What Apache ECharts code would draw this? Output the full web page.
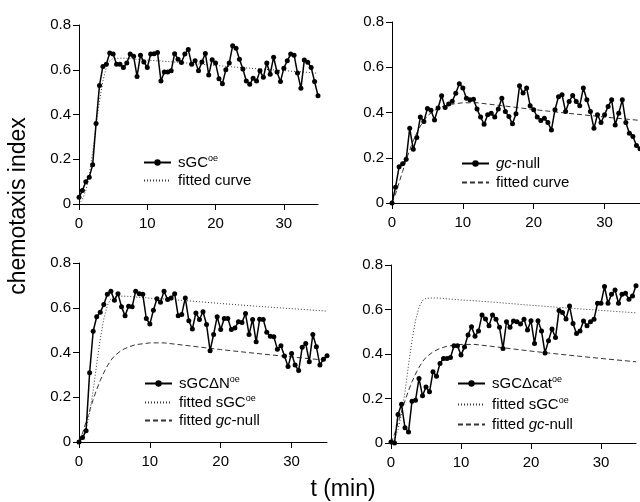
<!DOCTYPE html>
<html>
<head>
<meta charset="utf-8">
<script src="https://cdn.jsdelivr.net/npm/echarts@6/dist/echarts.min.js"></script>
<style>
html, body { margin: 0; padding: 0; background: #fff; }
#chart { width: 640px; height: 502px; }
</style>
</head>
<body>
<div id="chart"></div>
<script>
// sampling times (min)
const tMin = [0, 0.5, 1, 1.5, 2, 2.5, 3, 3.5, 4, 4.5, 5, 5.5, 6, 6.5, 7, 7.5, 8, 8.5, 9, 9.5,
    10, 10.5, 11, 11.5, 12, 12.5, 13, 13.5, 14, 14.5, 15, 15.5, 16, 16.5, 17, 17.5, 18, 18.5, 19, 19.5,
    20, 20.5, 21, 21.5, 22, 22.5, 23, 23.5, 24, 24.5, 25, 25.5, 26, 26.5, 27, 27.5, 28, 28.5, 29, 29.5,
    30, 30.5, 31, 31.5, 32, 32.5, 33, 33.5, 34, 34.5, 35];

const xTicks = [0, 10, 20, 30];
const yTicks = [0, 0.2, 0.4, 0.6, 0.8];

// measured chemotaxis index
const sgcOE = [0.03, 0.06, 0.10, 0.12, 0.175, 0.36, 0.53, 0.615, 0.625, 0.675,
    0.67, 0.625, 0.625, 0.61, 0.63, 0.67, 0.66, 0.57, 0.665, 0.635,
    0.61, 0.67, 0.672, 0.677, 0.55, 0.59, 0.59, 0.595, 0.672, 0.647,
    0.632, 0.67, 0.69, 0.625, 0.64, 0.595, 0.635, 0.673, 0.577, 0.645,
    0.63, 0.56, 0.537, 0.60, 0.63, 0.707, 0.696, 0.647, 0.603, 0.55,
    0.535, 0.562, 0.55, 0.595, 0.566, 0.63, 0.58, 0.656, 0.59, 0.547,
    0.607, 0.64, 0.67, 0.665, 0.585, 0.517, 0.644, 0.633, 0.61, 0.547,
    0.484];
const gcNull = [0, 0.07, 0.16, 0.173, 0.193, 0.33, 0.238, 0.29, 0.38, 0.36,
    0.418, 0.41, 0.367, 0.42, 0.474, 0.422, 0.438, 0.45, 0.485, 0.527,
    0.508, 0.463, 0.456, 0.459, 0.415, 0.38, 0.348, 0.39, 0.397, 0.38,
    0.415, 0.463, 0.404, 0.382, 0.35, 0.394, 0.518, 0.486, 0.508, 0.43,
    0.412, 0.38, 0.365, 0.375, 0.356, 0.323, 0.412, 0.47, 0.478, 0.404,
    0.449, 0.475, 0.449, 0.43, 0.508, 0.456, 0.404, 0.33, 0.39, 0.356,
    0.39, 0.427, 0.456, 0.345, 0.397, 0.456, 0.356, 0.308, 0.294, 0.254,
    0.24];
const sgcDeltaN = [0, 0.02, 0.05, 0.31, 0.495, 0.56, 0.58, 0.614, 0.66, 0.674,
    0.634, 0.663, 0.604, 0.564, 0.607, 0.604, 0.674, 0.663, 0.66, 0.552,
    0.527, 0.589, 0.64, 0.625, 0.674, 0.637, 0.644, 0.663, 0.564, 0.57,
    0.644, 0.542, 0.505, 0.577, 0.548, 0.582, 0.525, 0.408, 0.481, 0.56,
    0.503, 0.552, 0.552, 0.503, 0.51, 0.537, 0.534, 0.574, 0.481, 0.548,
    0.448, 0.549, 0.548, 0.49, 0.473, 0.47, 0.414, 0.43, 0.384, 0.337,
    0.396, 0.344, 0.319, 0.423, 0.44, 0.359, 0.481, 0.426, 0.344, 0.37,
    0.385];
const sgcDeltaCat = [0.005, 0, 0.128, 0.174, 0.068, 0.05, 0.188, 0.192, 0.29, 0.212,
    0.252, 0.23, 0.32, 0.30, 0.357, 0.38, 0.38, 0.384, 0.437, 0.437,
    0.395, 0.432, 0.485, 0.523, 0.48, 0.503, 0.575, 0.557, 0.527, 0.575,
    0.556, 0.52, 0.425, 0.545, 0.52, 0.548, 0.545, 0.535, 0.556, 0.508,
    0.55, 0.447, 0.55, 0.503, 0.405, 0.46, 0.512, 0.474, 0.595, 0.586,
    0.557, 0.616, 0.537, 0.492, 0.503, 0.548, 0.527, 0.545, 0.556, 0.628,
    0.628, 0.703, 0.628, 0.668, 0.688, 0.628, 0.668, 0.673, 0.646, 0.661,
    0.707];

// fitted curves
const fitT = [0, 0.5, 1, 1.5, 2, 2.5, 3, 3.5, 4, 4.5, 5, 6, 7, 8, 10, 12, 15, 20, 25, 30, 35];
const fitSGC = [0, 0.02, 0.06, 0.13, 0.23, 0.35, 0.46, 0.55, 0.61, 0.64, 0.65, 0.652, 0.651, 0.648,
    0.643, 0.639, 0.632, 0.619, 0.607, 0.596, 0.585];
const fitGC = [0, 0.04, 0.09, 0.14, 0.19, 0.235, 0.275, 0.31, 0.34, 0.365, 0.385, 0.41, 0.425, 0.435,
    0.443, 0.443, 0.432, 0.413, 0.396, 0.38, 0.365];

const FONT = 'Liberation Sans, Arial, sans-serif';

const grids = [
    { left: 79, top: 25, width: 239, height: 179 },
    { left: 392, top: 22, width: 252, height: 181 },
    { left: 79, top: 263, width: 248, height: 179 },
    { left: 391, top: 265, width: 245, height: 178 }
];

function pairs(xs, ys) {
    return xs.map((x, i) => [x, ys[i]]);
}

function dataSeries(name, idx, ys) {
    return {
        type: 'line', name: name, xAxisIndex: idx, yAxisIndex: idx,
        data: pairs(tMin, ys),
        symbol: 'circle', symbolSize: 5, showAllSymbol: true,
        lineStyle: { color: '#000', width: 1.5 },
        itemStyle: { color: '#000' },
        z: 5
    };
}

function fitSeries(name, idx, ys, dash) {
    return {
        type: 'line', name: name, xAxisIndex: idx, yAxisIndex: idx,
        data: pairs(fitT, ys),
        symbol: 'none',
        lineStyle: { color: '#333', width: 1, type: dash },
        itemStyle: { color: '#333' },
        z: 3
    };
}

const DOT = [1, 2];
const DASH = [5, 3];

const labels = {
    sgc: '{n|sGC}{s|oe}',
    fit1: '{n|fitted curve}',
    gc: '{i|gc}{n|-null}',
    fit2: '{n|fitted curve}',
    dN: '{n|sGCΔN}{s|oe}',
    fitS3: '{n|fitted sGC}{s|oe}',
    fitG3: '{n|fitted }{i|gc}{n|-null}',
    dCat: '{n|sGCΔcat}{s|oe}',
    fitS4: '{n|fitted sGC}{s|oe}',
    fitG4: '{n|fitted }{i|gc}{n|-null}'
};

const rich = {
    n: { fontSize: 15, color: '#000', fontFamily: FONT },
    i: { fontSize: 15, color: '#000', fontFamily: FONT, fontStyle: 'italic' },
    s: { fontSize: 9, color: '#000', fontFamily: FONT, padding: [0, 0, 8, 0] }
};

function legendAt(left, top, gap, names, fits) {
    return {
        orient: 'vertical', left: left, top: top,
        itemWidth: 27, itemHeight: 8, itemGap: gap,
        selectedMode: false,
        // fitted curves: line only, hide the marker
        data: names.map(n => (fits.includes(n) ? { name: n, itemStyle: { opacity: 0 } } : n)),
        formatter: name => labels[name],
        textStyle: { fontSize: 15, color: '#000', fontFamily: FONT, padding: [0, 0, 0, 2], rich: rich }
    };
}

let chart = echarts.init(document.getElementById('chart'));
let option = {
    animation: false,
    backgroundColor: '#fff',
    textStyle: { fontFamily: FONT },
    grid: grids,
    xAxis: grids.map((g, i) => ({
        type: 'value', gridIndex: i, min: 0, max: 35,
        axisLine: { show: true, lineStyle: { color: '#000', width: 1 } },
        axisTick: { show: true, length: 6, customValues: xTicks, lineStyle: { color: '#000' } },
        axisLabel: { customValues: xTicks, fontSize: 15, color: '#000', margin: 12, fontFamily: FONT },
        splitLine: { show: false }
    })),
    yAxis: grids.map((g, i) => ({
        type: 'value', gridIndex: i, min: 0, max: 0.8,
        axisLine: { show: true, lineStyle: { color: '#000', width: 1 } },
        axisTick: { show: true, length: 6, customValues: yTicks, lineStyle: { color: '#000' } },
        axisLabel: {
            customValues: yTicks, fontSize: 15, color: '#000', margin: 8, fontFamily: FONT,
            formatter: v => (v === 0 ? '0' : v.toFixed(1))
        },
        splitLine: { show: false }
    })),
    legend: [
        legendAt(138, 149, 3, ['sgc', 'fit1'], ['fit1']),
        legendAt(456, 151, 4, ['gc', 'fit2'], ['fit2']),
        legendAt(139, 370, 3, ['dN', 'fitS3', 'fitG3'], ['fitS3', 'fitG3']),
        legendAt(452, 370, 5, ['dCat', 'fitS4', 'fitG4'], ['fitS4', 'fitG4'])
    ],
    graphic: [
        {
            type: 'text', x: 19, y: 206, rotation: Math.PI / 2,
            style: { text: 'chemotaxis index', fontSize: 23, fontFamily: FONT, fill: '#000', align: 'center', verticalAlign: 'middle' }
        },
        {
            type: 'text', x: 343, y: 490,
            style: { text: 't (min)', fontSize: 23, fontFamily: FONT, fill: '#000', align: 'center', verticalAlign: 'middle' }
        }
    ],
    series: [
        fitSeries('fit1', 0, fitSGC, DOT),
        dataSeries('sgc', 0, sgcOE),
        fitSeries('fit2', 1, fitGC, DASH),
        dataSeries('gc', 1, gcNull),
        fitSeries('fitS3', 2, fitSGC, DOT),
        fitSeries('fitG3', 2, fitGC, DASH),
        dataSeries('dN', 2, sgcDeltaN),
        fitSeries('fitS4', 3, fitSGC, DOT),
        fitSeries('fitG4', 3, fitGC, DASH),
        dataSeries('dCat', 3, sgcDeltaCat)
    ]
};
chart.setOption(option);
</script>
</body>
</html>
